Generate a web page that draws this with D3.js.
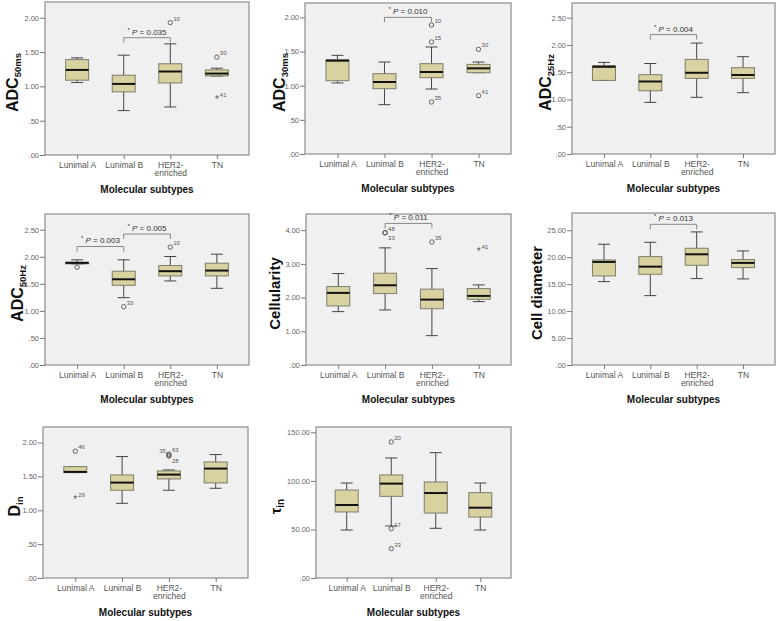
<!DOCTYPE html>
<html>
<head>
<meta charset="utf-8">
<script src="https://cdn.jsdelivr.net/npm/d3@7"></script>
<style>
  body { margin: 0; background: #fff; }
  svg { display: block; font-family: 'Liberation Sans', Arial, sans-serif; }
</style>
</head>
<body>
<div class="viz"></div>
<script>
// subtypes shared by all panels
const subtypes = ['Lunimal A', 'Lunimal B', 'HER2-enriched', 'TN'];

// each box: [lower whisker, Q1, median, Q3, upper whisker]
const adc50ms = [[1.056, 1.09, 1.24, 1.39, 1.416], [0.647, 0.92, 1.036, 1.163, 1.455], [0.70, 1.05, 1.217, 1.33, 1.62], [1.15, 1.153, 1.187, 1.24, 1.265]];
const adc50msOutliers = [{ g: 2, v: 1.93, id: '10' }, { g: 3, v: 1.426, id: '30' }, { g: 3, v: 0.82, id: '41', star: true }];
const adc50msTests = [{ from: 1, to: 2, at: 1.71, p: '0.035' }];

const adc30ms = [[1.04, 1.073, 1.366, 1.38, 1.444], [0.722, 0.956, 1.054, 1.176, 1.346], [0.951, 1.117, 1.2, 1.322, 1.566], [1.19, 1.19, 1.254, 1.312, 1.346]];
const adc30msOutliers = [{ g: 2, v: 1.888, id: '10' }, { g: 2, v: 1.639, id: '15' }, { g: 2, v: 0.761, id: '35' }, { g: 3, v: 1.532, id: '30' }, { g: 3, v: 0.854, id: '41' }];
const adc30msTests = [{ from: 1, to: 2, at: 2.0, p: '0.010' }];

const adc25hz = [[1.35, 1.35, 1.60, 1.62, 1.68], [0.947, 1.16, 1.33, 1.455, 1.66], [1.04, 1.387, 1.49, 1.736, 2.035], [1.125, 1.387, 1.449, 1.583, 1.785]];
const adc25hzOutliers = [];
const adc25hzTests = [{ from: 1, to: 2, at: 2.19, p: '0.004' }];

const adc50hz = [[1.869, 1.869, 1.887, 1.90, 1.943], [1.244, 1.473, 1.584, 1.733, 1.943], [1.553, 1.646, 1.733, 1.838, 2.005], [1.417, 1.646, 1.745, 1.881, 2.048]];
const adc50hzOutliers = [{ g: 0, v: 1.807, id: '' }, { g: 1, v: 1.077, id: '33' }, { g: 2, v: 2.178, id: '10' }];
const adc50hzTests = [{ from: 0, to: 1, at: 2.19, p: '0.003' }, { from: 1, to: 2, at: 2.42, p: '0.005' }];

const cellularity = [[1.584, 1.752, 2.139, 2.327, 2.713], [1.634, 2.119, 2.366, 2.723, 3.475], [0.871, 1.67, 1.94, 2.25, 2.861], [1.881, 1.95, 2.05, 2.267, 2.376]];
const cellularityOutliers = [{ g: 1, v: 3.93, id: '48' }, { g: 1, v: 3.92, id: '33', below: true }, { g: 2, v: 3.65, id: '35' }, { g: 3, v: 3.386, id: '41', star: true }];
const cellularityTests = [{ from: 1, to: 2, at: 4.2, p: '0.011' }];

const cellDiameter = [[15.47, 16.52, 19.12, 19.49, 22.4], [12.87, 16.83, 18.25, 20.11, 22.77], [16.03, 18.5, 20.54, 21.66, 24.69], [15.97, 18.07, 18.94, 19.55, 21.16]];
const cellDiameterOutliers = [];
const cellDiameterTests = [{ from: 1, to: 2, at: 26.1, p: '0.013' }];

const din = [[1.557, 1.557, 1.567, 1.645, 1.645], [1.103, 1.296, 1.409, 1.522, 1.793], [1.296, 1.463, 1.527, 1.581, 1.596], [1.325, 1.404, 1.616, 1.714, 1.823]];
const dinOutliers = [{ g: 0, v: 1.872, id: '46' }, { g: 0, v: 1.163, id: '29', star: true }, { g: 2, v: 1.83, id: '63' }, { g: 2, v: 1.815, id: '35', left: true }, { g: 2, v: 1.80, id: '28', below: true }];
const dinTests = [];

const tauIn = [[49.4, 68.0, 75.2, 90.6, 97.8], [53.6, 84.1, 97.2, 106.1, 123.6], [51.2, 66.9, 87.5, 98.9, 129.1], [49.4, 62.8, 72.4, 87.9, 97.8]];
const tauInOutliers = [{ g: 1, v: 140.1, id: '20' }, { g: 1, v: 50.8, id: '17' }, { g: 1, v: 30.2, id: '33' }];
const tauInTests = [];

// axis tick values and axis maxima
const ticksAdc = [0, 0.5, 1, 1.5, 2];
const ticksAdcWide = [0, 0.5, 1, 1.5, 2, 2.5];
const ticksCellularity = [0, 1, 2, 3, 4];
const ticksDiameter = [0, 5, 10, 15, 20, 25];
const ticksTau = [0, 50, 100, 150];
const yMax = [2.23, 2.21, 2.77, 2.79, 4.48, 28.2, 2.23, 155.5];

// panel table: frame box and title placement
const panels = [
  { title: 'ADC', sub: '50ms', stats: adc50ms, outliers: adc50msOutliers, tests: adc50msTests, ticks: ticksAdc, box: [45, 2, 249, 155], tx: 18 },
  { title: 'ADC', sub: '30ms', stats: adc30ms, outliers: adc30msOutliers, tests: adc30msTests, ticks: ticksAdc, box: [305, 3, 511, 154], tx: 285 },
  { title: 'ADC', sub: '25Hz', stats: adc25hz, outliers: adc25hzOutliers, tests: adc25hzTests, ticks: ticksAdcWide, box: [572, 3, 775, 154], tx: 551 },
  { title: 'ADC', sub: '50Hz', stats: adc50hz, outliers: adc50hzOutliers, tests: adc50hzTests, ticks: ticksAdcWide, box: [45, 214, 249, 365], tx: 23 },
  { title: 'Cellularity', sub: '', stats: cellularity, outliers: cellularityOutliers, tests: cellularityTests, ticks: ticksCellularity, box: [306, 214, 511, 365], tx: 280, size: 15 },
  { title: 'Cell diameter', sub: '', stats: cellDiameter, outliers: cellDiameterOutliers, tests: cellDiameterTests, ticks: ticksDiameter, box: [572, 213, 775, 365], tx: 542, size: 15 },
  { title: 'D', sub: 'in', stats: din, outliers: dinOutliers, tests: dinTests, ticks: ticksAdc, box: [43, 427, 248, 578], tx: 20 },
  { title: 'τ', sub: 'in', stats: tauIn, outliers: tauInOutliers, tests: tauInTests, ticks: ticksTau, box: [316, 427, 511, 578], tx: 281, size: 14 },
];

const boxWidth = 23;
const capWidth = 12;
const tickFormat = v => d3.format('.2f')(v).replace(/^0\./, '.');

const svg = d3.select('.viz')
  .append('svg')
  .attr('width', 780)
  .attr('height', 621);

panels.forEach((p, i) => {
  const [x0, y0, x1, y1] = p.box;
  const g = svg.append('g');

  const x = d3.scalePoint().domain(subtypes).range([x0, x1]).padding(0.69);
  const y = d3.scaleLinear().domain([0, yMax[i]]).range([y1, y0]);

  // plot frame
  g.append('rect')
    .attr('x', x0)
    .attr('y', y0)
    .attr('width', x1 - x0)
    .attr('height', y1 - y0)
    .attr('fill', '#f0f0f0')
    .attr('stroke', '#8c8c8c')
    .attr('stroke-width', 1.2);

  // y axis
  const yAxis = g.append('g')
    .attr('transform', `translate(${x0} 0)`)
    .call(d3.axisLeft(y).tickValues(p.ticks).tickFormat(tickFormat).tickSize(5).tickPadding(1));
  yAxis.select('.domain').remove();
  yAxis.selectAll('line').attr('stroke', '#777');
  yAxis.selectAll('text').attr('fill', '#666').attr('font-size', 7.5).attr('font-family', 'Liberation Sans, Arial');

  // x axis with two-line labels
  const xAxis = g.append('g')
    .attr('transform', `translate(0 ${y1})`)
    .call(d3.axisBottom(x).tickSize(4).tickFormat(''));
  xAxis.select('.domain').remove();
  xAxis.selectAll('line').attr('stroke', '#777');
  xAxis.selectAll('.tick')
    .append('text')
    .attr('fill', '#555')
    .attr('font-size', 8.5)
    .attr('font-family', 'Liberation Sans, Arial')
    .attr('text-anchor', 'middle')
    .selectAll('tspan')
    .data(d => d.split(/(?<=-)/))
    .join('tspan')
    .attr('x', 0)
    .attr('y', (d, j) => 12.5 + j * 8.5)
    .text(d => d);

  // x axis title
  g.append('text')
    .attr('x', (x0 + x1) / 2)
    .attr('y', y1 + 38)
    .attr('text-anchor', 'middle')
    .attr('font-weight', 'bold')
    .attr('font-size', 10)
    .attr('fill', '#111')
    .text('Molecular subtypes');

  // y axis title, rotated with optional subscript
  const title = g.append('text')
    .attr('transform', `translate(${p.tx} ${(y0 + y1) / 2 + 4}) rotate(-90)`)
    .attr('text-anchor', 'middle')
    .attr('font-weight', 'bold')
    .attr('fill', '#111')
    .attr('font-size', p.size || 16);
  title.append('tspan').text(p.title);
  if (p.sub) {
    title.append('tspan')
      .attr('font-size', p.title === 'τ' ? 10 : 9.5)
      .attr('dy', 3)
      .text(p.sub);
  }

  // box plots
  const boxes = g.selectAll('g.box')
    .data(p.stats)
    .join('g')
    .attr('class', 'box')
    .attr('transform', (d, j) => `translate(${x(subtypes[j])} 0)`);

  boxes.append('line')
    .attr('y1', d => y(d[0]))
    .attr('y2', d => y(d[4]))
    .attr('stroke', '#444')
    .attr('stroke-width', 1);

  boxes.selectAll('line.cap')
    .data(d => [d[0], d[4]])
    .join('line')
    .attr('class', 'cap')
    .attr('x1', -capWidth / 2)
    .attr('x2', capWidth / 2)
    .attr('y1', d => y(d))
    .attr('y2', d => y(d))
    .attr('stroke', '#444')
    .attr('stroke-width', 1);

  boxes.append('rect')
    .attr('x', -boxWidth / 2)
    .attr('width', boxWidth)
    .attr('y', d => y(d[3]))
    .attr('height', d => Math.max(y(d[1]) - y(d[3]), 0.5))
    .attr('fill', '#d8d2a0')
    .attr('stroke', '#7d7d6c')
    .attr('stroke-width', 1);

  boxes.append('line')
    .attr('x1', -boxWidth / 2)
    .attr('x2', boxWidth / 2)
    .attr('y1', d => y(d[2]))
    .attr('y2', d => y(d[2]))
    .attr('stroke', '#111')
    .attr('stroke-width', 2);

  // outliers: circles, or stars for extremes
  p.outliers.forEach(o => {
    const cx = x(subtypes[o.g]);
    const cy = y(o.v);
    if (o.star) {
      g.append('text')
        .attr('x', cx)
        .attr('y', cy + 4)
        .attr('text-anchor', 'middle')
        .attr('font-size', 10)
        .attr('fill', '#555')
        .text('*');
    } else {
      g.append('circle')
        .attr('cx', cx)
        .attr('cy', cy)
        .attr('r', 2.2)
        .attr('fill', 'none')
        .attr('stroke', '#555')
        .attr('stroke-width', 0.9);
    }
    if (o.id) {
      g.append('text')
        .attr('x', o.left ? cx - 3 : cx + 3)
        .attr('y', o.below ? cy + 7 : cy - 2)
        .attr('text-anchor', o.left ? 'end' : 'start')
        .attr('font-size', 6)
        .attr('fill', '#555')
        .text(o.id);
    }
  });

  // significance brackets
  p.tests.forEach(t => {
    const xa = x(subtypes[t.from]);
    const xb = x(subtypes[t.to]);
    const yb = y(t.at);
    g.append('path')
      .attr('d', `M${xa},${yb + 5}V${yb}H${xb}V${yb + 5}`)
      .attr('fill', 'none')
      .attr('stroke', '#888')
      .attr('stroke-width', 1);
    const label = g.append('text')
      .attr('x', (xa + xb) / 2)
      .attr('y', yb - 3)
      .attr('text-anchor', 'middle')
      .attr('font-size', 8)
      .attr('fill', '#333');
    label.append('tspan').attr('font-size', 6).attr('dy', -3).text('*');
    label.append('tspan').attr('dy', 3).attr('font-style', 'italic').text(' P');
    label.append('tspan').text(` = ${t.p}`);
  });
});
</script>
</body>
</html>
